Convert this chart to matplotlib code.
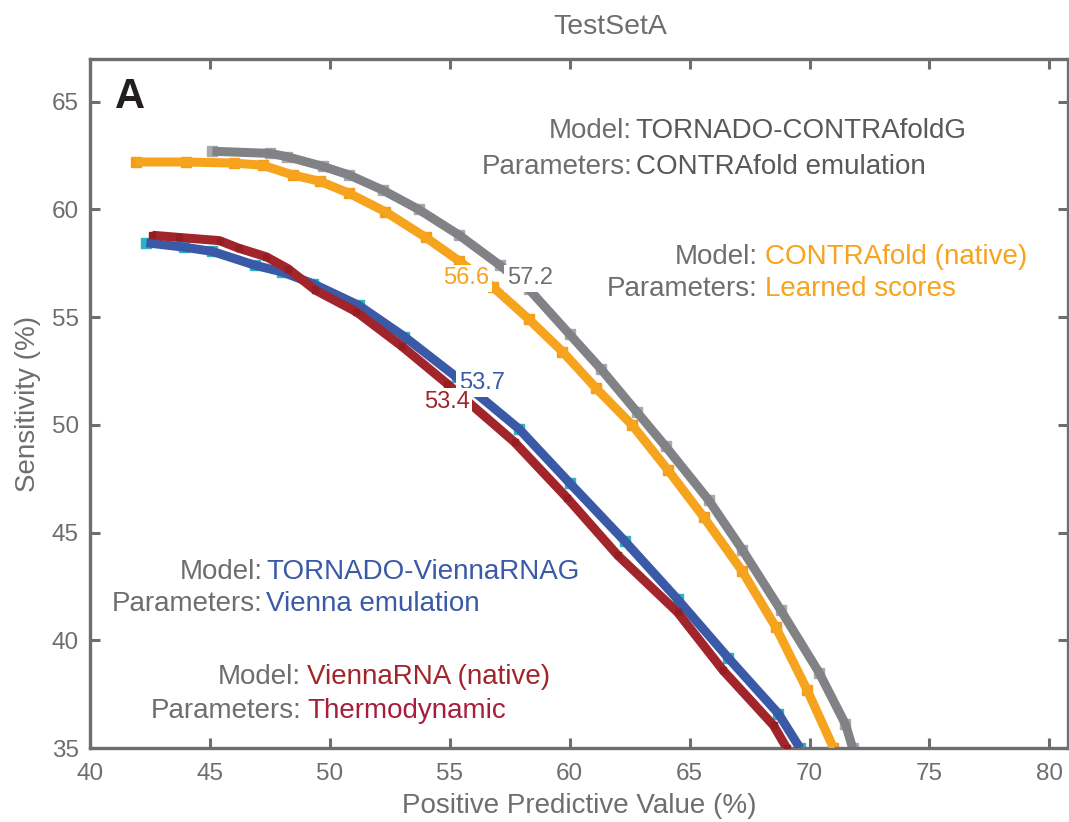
import numpy as np
import matplotlib
matplotlib.use('Agg')
import matplotlib.pyplot as plt

plt.rcParams['font.family'] = ['Liberation Sans', 'DejaVu Sans']

# Curves (PPV %, Sensitivity %)
gray_x = [45.1, 47.5, 48.2, 49.7, 50.8, 52.2, 53.7, 55.4, 57.1, 58.3, 60.0, 61.3, 62.8, 64.0, 65.8, 67.2, 68.8, 70.4, 71.5, 71.8]
gray_y = [62.7, 62.6, 62.45, 62.0, 61.6, 60.9, 60.0, 58.8, 57.4, 56.3, 54.2, 52.6, 50.6, 49.0, 46.5, 44.2, 41.4, 38.5, 36.1, 35.0]

orange_x = [41.9, 44.0, 46.0, 47.2, 48.45, 49.6, 50.8, 52.3, 54.0, 55.4, 56.8, 58.3, 59.7, 61.1, 62.6, 64.1, 65.6, 67.2, 68.6, 69.9, 71.0]
orange_y = [62.2, 62.2, 62.15, 62.05, 61.6, 61.3, 60.75, 59.9, 58.7, 57.6, 56.4, 54.9, 53.4, 51.7, 50.0, 47.9, 45.7, 43.2, 40.6, 37.7, 35.0]

blue_x = [42.35, 43.9, 45.1, 46.9, 48.0, 49.3, 51.2, 53.1, 55.3, 57.9, 60.0, 62.3, 64.5, 66.6, 68.7, 69.6]
blue_y = [58.45, 58.25, 58.05, 57.4, 57.1, 56.55, 55.55, 54.1, 52.2, 49.8, 47.3, 44.6, 41.9, 39.2, 36.6, 35.0]

red_x = [42.6, 43.7, 45.4, 46.2, 47.35, 48.25, 49.4, 51.1, 53.0, 54.9, 57.7, 59.9, 62.0, 64.5, 66.4, 68.5, 69.05]
red_y = [58.8, 58.7, 58.55, 58.2, 57.8, 57.25, 56.25, 55.25, 53.65, 51.9, 49.2, 46.6, 43.95, 41.3, 38.6, 36.05, 35.0]

# Point labels on the curves
point_labels = ['57.2', '56.6', '53.7', '53.4']
point_x = [58.34, 55.7, 56.33, 54.87]
point_y = [56.8, 56.8, 51.93, 51.05]

xticks = [40, 45, 50, 55, 60, 65, 70, 75, 80]
yticks = [35, 40, 45, 50, 55, 60, 65]

frame_c = '#6d6e71'
c_gray = '#808285'
c_orange = '#f6a31d'
c_blue = '#3a5aa8'
c_red = '#a2252b'

fig = plt.figure(figsize=(10.69, 8.22), dpi=100)
ax = fig.add_axes([0.0842, 0.0900, 0.9149, 0.8382])

# markers peeking out from behind the thick lines
ax.plot(gray_x, gray_y, ls='none', marker='s', ms=6.5, color='#a7a9ac', zorder=1)
ax.plot(orange_x, orange_y, ls='none', marker='s', ms=6.5, color='#f59d1a', zorder=1)
ax.plot(blue_x, blue_y, ls='none', marker='s', ms=7.5, color='#2ab4c6', zorder=1)

ax.plot(gray_x, gray_y, color=c_gray, lw=6.5, solid_capstyle='butt', zorder=2)
ax.plot(orange_x, orange_y, color=c_orange, lw=6.5, solid_capstyle='butt', zorder=3)
ax.plot(blue_x, blue_y, color=c_blue, lw=6.5, solid_capstyle='butt', zorder=4)
ax.plot(red_x, red_y, color=c_red, lw=6.5, solid_capstyle='butt', zorder=5)
ax.plot(red_x, red_y, ls='none', marker='s', ms=5, color='#951e24', zorder=5)

for lab, x, y, c in zip(point_labels, point_x, point_y, ['#6d6e71', c_orange, c_blue, c_red]):
    ax.text(x, y, lab, color=c, fontsize=17, ha='center', va='center', zorder=6,
            bbox=dict(boxstyle='square,pad=0.12', fc='white', ec='none'))

# model / parameter annotations
def model_text(x, y1, y2, model, param, c1, c2, gap=0.15):
    ax.text(x, y1, 'Model:', color=frame_c, fontsize=20, ha='right', va='center', zorder=7)
    ax.text(x + gap, y1, model, color=c1, fontsize=20, ha='left', va='center', zorder=7)
    ax.text(x, y2, 'Parameters:', color=frame_c, fontsize=20, ha='right', va='center', zorder=7)
    ax.text(x + gap, y2, param, color=c2, fontsize=20, ha='left', va='center', zorder=7)

model_text(62.6, 63.64, 61.97, 'TORNADO-CONTRAfoldG', 'CONTRAfold emulation', '#58595b', '#58595b')
model_text(67.85, 57.79, 56.3, 'CONTRAfold (native)', 'Learned scores', c_orange, c_orange, gap=0.3)
model_text(47.2, 43.17, 41.68, 'TORNADO-ViennaRNAG', 'Vienna emulation', c_blue, c_blue)
model_text(48.8, 38.28, 36.7, 'ViennaRNA (native)', 'Thermodynamic', c_red, '#a61e3c', gap=0.25)

ax.text(41.05, 65.2, 'A', fontsize=30, fontweight='bold', color='#231f20', ha='left', va='center')

ax.set_xlim(40, 80.78)
ax.set_ylim(35, 66.98)
ax.set_xticks(xticks)
ax.set_yticks(yticks)
ax.tick_params(direction='in', length=7, width=2.2, color=frame_c, labelcolor=frame_c,
               labelsize=17.5, top=True, right=True, pad=8)
ax.tick_params(axis='x', pad=11)
for s in ax.spines.values():
    s.set_color(frame_c)
    s.set_linewidth(2.4)

ax.set_xlabel('Positive Predictive Value (%)', fontsize=20, color=frame_c)
ax.set_ylabel('Sensitivity (%)', fontsize=20, color=frame_c)
ax.xaxis.set_label_coords(0.5, -0.066)
ax.yaxis.set_label_coords(-0.05, 0.5)
ax.text(0.532, 1.047, 'TestSetA', transform=ax.transAxes, fontsize=20.5, color=frame_c,
        ha='center', va='center')

fig.savefig('out.png', dpi=100)
